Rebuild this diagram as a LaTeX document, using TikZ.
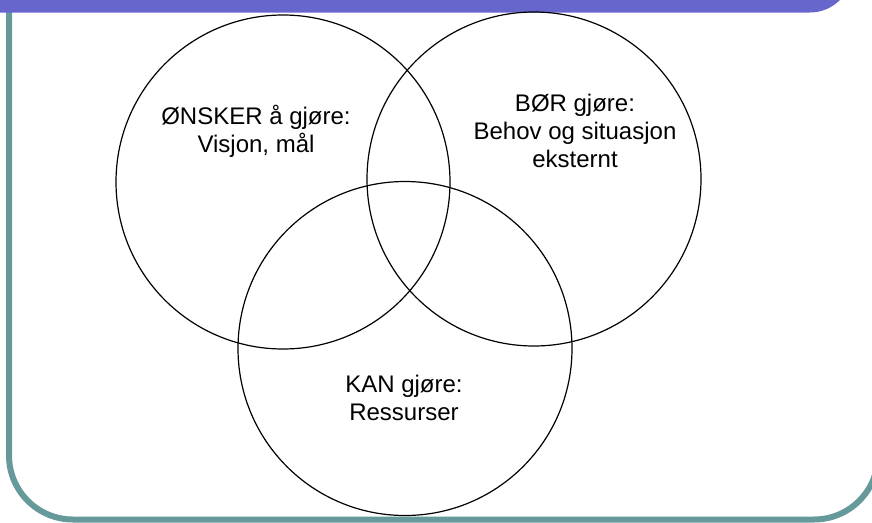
\documentclass[tikz,border=0pt]{standalone}
\usepackage{fontspec}
\setmainfont{Liberation Sans}
\definecolor{barpurple}{RGB}{102,102,204}
\definecolor{frameteal}{RGB}{102,153,153}
\begin{document}
\begin{tikzpicture}[x=1pt,y=-1pt,
  ring/.style={circle,draw=black,line width=1.2pt,minimum size=334pt,inner sep=0pt},
  label/.style={align=center,inner sep=0pt,font=\fontsize{24}{28}\selectfont},
  frame/.style={draw=frameteal,line width=6pt}]
\useasboundingbox (0,0) rectangle (872,522);
% slide frame: teal border on the left and bottom
\draw[frame,rounded corners=64pt] (9,-10) -- (9,519.5) -- (878,519.5) -- (878,300);
% purple title bar with rounded lower right corner
\fill[barpurple,rounded corners=42pt] (-60,-80) rectangle (852,12.5);
% three overlapping circles
\node[ring] (wish) at (283,182) {};
\node[ring] (ought) at (534,179) {};
\node[ring] (can) at (405,348.5) {};
% circle texts
\node[label] (wishtext) at (256,131) {ØNSKER å gjøre:\\Visjon, mål};
\node[label] (oughttext) at (575,131) {BØR gjøre:\\Behov og situasjon\\eksternt};
\node[label] (cantext) at (404,398) {KAN gjøre:\\Ressurser};
\end{tikzpicture}
\end{document}
